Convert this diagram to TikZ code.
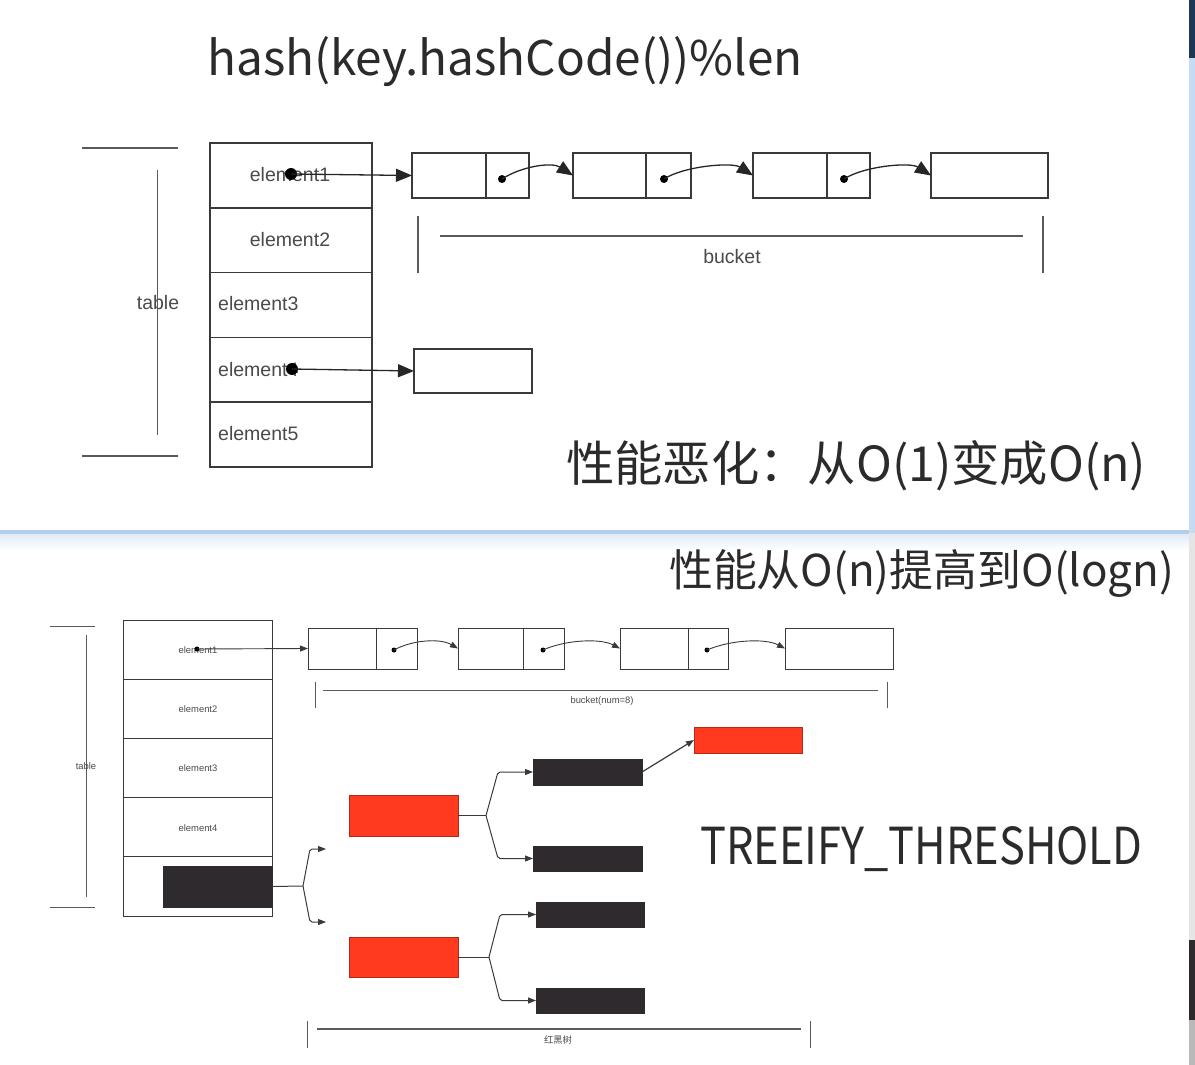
\documentclass[tikz,border=0pt]{standalone}
\usepackage{fontspec}
\usepackage{graphicx}
\setmainfont{Liberation Sans}
\newfontfamily\cjk{Noto Sans CJK SC}
\usetikzlibrary{arrows.meta}
\definecolor{linec}{HTML}{3A3A3A}
\definecolor{brk}{HTML}{5A5A5A}
\definecolor{txtc}{HTML}{4A4A4A}
\definecolor{bigtxt}{HTML}{2B2B2B}
\definecolor{rbred}{HTML}{FF3A1E}
\definecolor{rbblack}{HTML}{2F2A2D}
\definecolor{sepblue}{HTML}{B3CDEE}
\definecolor{navy}{HTML}{1E3656}
\definecolor{stripblue}{HTML}{C5DBF3}
\tikzset{
  cell/.style={draw=linec, line width=1.5pt, inner sep=0pt, outer sep=0pt, fill=white},
  scell/.style={draw=linec, line width=1pt, inner sep=0pt, outer sep=0pt, fill=white},
  ln/.style={draw=linec, line width=1.5pt},
  sln/.style={draw=linec, line width=0.9pt},
  brline/.style={draw=brk, line width=1.6pt},
  sbrline/.style={draw=brk, line width=1pt},
  lbl/.style={text=txtc, font=\fontsize{19.5}{20}\selectfont, inner sep=0pt},
  slbl/.style={text=txtc, font=\fontsize{9.4}{10}\selectfont, inner sep=0pt},
  bigdot/.style={circle, fill=black, inner sep=0pt, minimum size=12pt},
  smalldot/.style={circle, fill=black, inner sep=0pt, minimum size=8pt},
  tinydot/.style={circle, fill=black, inner sep=0pt, minimum size=5pt},
  arrtop/.style={draw=black!85, line width=1.3pt, -{Triangle[length=16pt,width=13pt]}},
  arrbot/.style={sln, -{Triangle[length=8pt,width=6pt]}},
  redbox/.style={draw=rbred!70!black, line width=0.8pt, fill=rbred, inner sep=0pt, outer sep=0pt},
  blkbox/.style={draw=rbblack, line width=0.8pt, fill=rbblack, inner sep=0pt, outer sep=0pt},
  tree/.style={sln, line width=1pt, rounded corners=2pt, -{Triangle[length=8pt,width=6pt]}},
  bigtext/.style={text=bigtxt, inner sep=0pt, anchor=base west}
}
\begin{document}
\begin{tikzpicture}[x=1pt,y=-1pt]
\useasboundingbox (0,0) rectangle (1195,1065);
\fill[white] (0,0) rectangle (1195,1065);
% panel separator and right strip
\fill[sepblue] (0,530) rectangle (1189,534);
\shade[top color=sepblue!40, bottom color=white] (0,534) rectangle (1189,550);
\fill[navy] (1189,0) rectangle (1195,58);
\fill[stripblue] (1189,58) rectangle (1195,533);
\fill[gray!20] (1189,533) rectangle (1195,940);
\fill[rbblack] (1189,940) rectangle (1195,1020);
\fill[gray!55] (1189,1020) rectangle (1195,1065);

% ================= TOP =================
\node[bigtext] (title) at (207,76) {\resizebox{595pt}{39pt}{\cjk hash(key.hashCode())\%len}};

% table bracket
\draw[brline] (82,148) -- (178,148);
\draw[brline] (82,456) -- (178,456);
\node[lbl] (tlab) at (158,303) {table};
\draw[brline] (157.5,170) -- (157.5,435);

% table rows
\node[cell, minimum width=162pt, minimum height=64.8pt] (t1) at (291,175.4) {};
\node[cell, minimum width=162pt, minimum height=64.8pt] (t2) at (291,240.2) {};
\node[cell, minimum width=162pt, minimum height=64.8pt] (t3) at (291,305.0) {};
\node[cell, minimum width=162pt, minimum height=64.8pt] (t4) at (291,369.8) {};
\node[cell, minimum width=162pt, minimum height=64.8pt] (t5) at (291,434.6) {};
\node[lbl] (e1) at (290,175) {element1};
\node[lbl] (e2) at (290,240) {element2};
\node[lbl, anchor=west] (e3) at (218,304) {element3};
\node[lbl, anchor=west] (e4) at (218,370) {element4};
\node[lbl, anchor=west] (e5) at (218,434) {element5};

% bucket boxes
\node[cell, minimum width=117pt, minimum height=45pt] (b1) at (470.5,175.5) {};
\node[cell, minimum width=118pt, minimum height=45pt] (b2) at (632,175.5) {};
\node[cell, minimum width=117pt, minimum height=45pt] (b3) at (811.5,175.5) {};
\node[cell, minimum width=117pt, minimum height=45pt] (b4) at (989.5,175.5) {};
\draw[ln] (486,153) -- (486,198);
\draw[ln] (646,153) -- (646,198);
\draw[ln] (827,153) -- (827,198);
\node[cell, minimum width=118pt, minimum height=44pt] (b5) at (473,371) {};

% pointers
\node[bigdot] (p1) at (291,174) {};
\node[bigdot] (p4) at (292,369) {};
\draw[arrtop] (p1.center) -- (b1.west);
\draw[arrtop] (p4.center) -- (b5.west);
\node[smalldot] (d1) at (502,179) {};
\node[smalldot] (d2) at (664,179) {};
\node[smalldot] (d3) at (844,179) {};
\draw[arrtop] (d1.center) .. controls (522,166) and (552,162) .. (b2.west);
\draw[arrtop] (d2.center) .. controls (684,166) and (732,162) .. (b3.west);
\draw[arrtop] (d3.center) .. controls (864,166) and (910,162) .. (b4.west);

% bucket bracket
\draw[brline] (418,216) -- (418,273);
\draw[brline] (1043,216) -- (1043,273);
\draw[brline] (440,236) -- (1023,236);
\node[lbl] (bucketlab) at (732,257) {bucket};

\node[bigtext] (t1txt) at (566,481) {\resizebox{580pt}{!}{\cjk 性能恶化：从O(1)变成O(n)}};

% ================= BOTTOM =================
\node[bigtext] (t2txt) at (669,586) {\resizebox{505pt}{!}{\cjk 性能从O(n)提高到O(logn)}};

% table bracket
\draw[sbrline] (50,626) -- (95,626);
\draw[sbrline] (50,907) -- (95,907);
\draw[sbrline] (86,635) -- (86,897);
\node[slbl] (tlab2) at (86,766) {table};

% table rows
\node[scell, minimum width=149pt, minimum height=59.2pt] (u1) at (197.5,649.6) {};
\node[scell, minimum width=149pt, minimum height=59.2pt] (u2) at (197.5,708.8) {};
\node[scell, minimum width=149pt, minimum height=59.2pt] (u3) at (197.5,768.0) {};
\node[scell, minimum width=149pt, minimum height=59.2pt] (u4) at (197.5,827.2) {};
\node[scell, minimum width=149pt, minimum height=59.2pt] (u5) at (197.5,886.4) {};
\node[slbl] (f1) at (198,650) {element1};
\node[slbl] (f2) at (198,709) {element2};
\node[slbl] (f3) at (198,768) {element3};
\node[slbl] (f4) at (198,828) {element4};
\node[blkbox, minimum width=109pt, minimum height=41pt] (kb) at (217.5,886.5) {};

% bucket boxes
\node[scell, minimum width=109pt, minimum height=41pt] (c1) at (362.5,648.5) {};
\node[scell, minimum width=106pt, minimum height=41pt] (c2) at (511,648.5) {};
\node[scell, minimum width=108pt, minimum height=41pt] (c3) at (674,648.5) {};
\node[scell, minimum width=108pt, minimum height=41pt] (c4) at (839,648.5) {};
\draw[sln] (376,628) -- (376,669);
\draw[sln] (523,628) -- (523,669);
\draw[sln] (688,628) -- (688,669);

\node[tinydot] (q1) at (197,649) {};
\draw[arrbot] (q1.center) -- (c1.west);
\node[tinydot] (g1) at (394,650) {};
\node[tinydot] (g2) at (543,650) {};
\node[tinydot] (g3) at (707,650) {};
\draw[arrbot] (g1.center) .. controls (412,640) and (440,638) .. (c2.west);
\draw[arrbot] (g2.center) .. controls (565,640) and (600,638) .. (c3.west);
\draw[arrbot] (g3.center) .. controls (730,640) and (765,638) .. (c4.west);

% bucket bracket
\draw[sbrline] (315,682) -- (315,708);
\draw[sbrline] (887,682) -- (887,708);
\draw[sbrline] (323,690) -- (878,690);
\node[slbl] (blab2) at (602,701) {bucket(num=8)};

% red-black tree
\node[redbox, minimum width=109pt, minimum height=41pt] (r1) at (403.5,815.5) {};
\node[redbox, minimum width=109pt, minimum height=40pt] (r2) at (403.5,957) {};
\node[blkbox, minimum width=109pt, minimum height=26pt] (k1) at (587.5,772) {};
\node[blkbox, minimum width=109pt, minimum height=25pt] (k2) at (587.5,858.5) {};
\node[blkbox, minimum width=108pt, minimum height=25pt] (k3) at (590,914.5) {};
\node[blkbox, minimum width=108pt, minimum height=25pt] (k4) at (590,1000.5) {};
\node[redbox, minimum width=108pt, minimum height=26pt] (rt) at (748,740) {};

\coordinate (j0) at (303,886);
\coordinate (j1) at (486,815.5);
\coordinate (j2) at (489,957);
\coordinate (fa) at (326,849);
\coordinate (fb) at (326,922);

\draw[sln, line width=1pt] (kb.east) -- (j0);
\draw[tree] (j0) -- (310,849) -- (fa);
\draw[tree] (j0) -- (310,922) -- (fb);
\draw[sln, line width=1pt] (r1.east) -- (j1);
\draw[tree] (j1) -- (498,772) -- (k1.west);
\draw[tree] (j1) -- (498,858.5) -- (k2.west);
\draw[sln, line width=1pt] (r2.east) -- (j2);
\draw[tree] (j2) -- (500,914.5) -- (k3.west);
\draw[tree] (j2) -- (500,1000.5) -- (k4.west);
\draw[arrbot, line width=1.2pt] (k1.east) -- (rt.west);

% red-black bracket
\draw[sbrline] (307,1021) -- (307,1048);
\draw[sbrline] (810,1021) -- (810,1048);
\draw[sbrline, line width=1.4pt] (317,1029) -- (801,1029);
\node[slbl, font=\cjk\fontsize{9.3}{10}\selectfont] (rblab) at (558,1040) {红黑树};

\node[bigtext] (thr) at (700,864) {\resizebox{442pt}{38pt}{\cjk TREEIFY\_THRESHOLD}};
\end{tikzpicture}
\end{document}
